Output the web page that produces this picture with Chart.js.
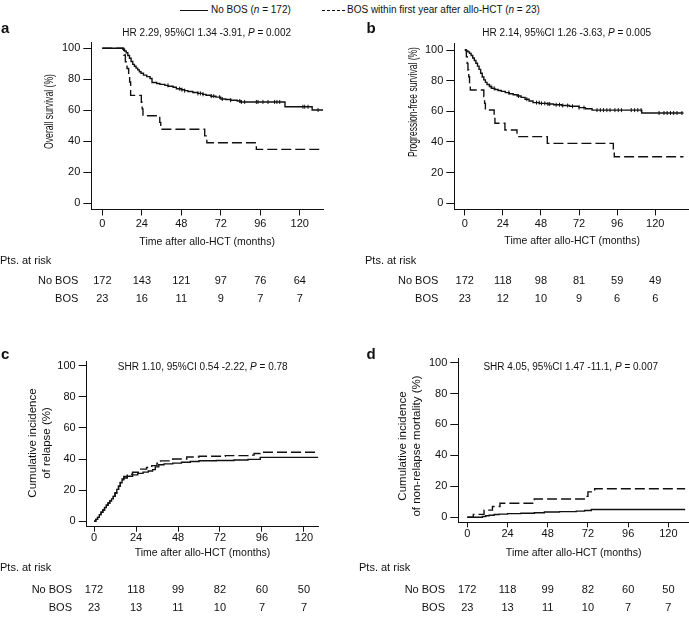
<!DOCTYPE html>
<html><head><meta charset="utf-8">
<script src="https://cdn.jsdelivr.net/npm/chart.js@4.4.1/dist/chart.umd.min.js"></script>
<style>
html,body{margin:0;padding:0;background:#fff;width:689px;height:620px;overflow:hidden;position:relative;font-family:"Liberation Sans",Arial,sans-serif;color:#111;}
canvas{position:absolute;}
#legend{position:absolute;top:0;left:0;width:689px;height:20px;font-size:10px;white-space:nowrap;}
.li{position:absolute;top:4px;}
.sw{position:absolute;top:10px;height:0;border-top:1px solid #111;}
</style></head><body>
<div id="legend">
 <span class="sw" style="left:180px;width:28px;"></span>
 <span class="li" style="left:211px;">No BOS (<i>n</i> = 172)</span>
 <span class="sw" style="left:322px;width:23px;border-top-style:dashed;"></span>
 <span class="li" style="left:347px;">BOS within first year after allo-HCT (<i>n</i> = 23)</span>
</div>
<canvas id="pa"></canvas><canvas id="pb"></canvas><canvas id="pc"></canvas><canvas id="pd"></canvas>
<script>
// ---------- data ----------
const xTicks = [0, 24, 48, 72, 96, 120];
const yTicks = [0, 20, 40, 60, 80, 100];
const groupLabels = ['No BOS', 'BOS'];

// (a) overall survival
const osNoBosT = [0, 12.5, 13.5, 14.5, 15.5, 16.5, 17.5, 18.5, 19.5, 20.5, 21.5, 22.5, 23.5, 25, 27, 29, 30.2, 33, 35, 38, 40, 43, 45, 48, 50, 52, 55, 58, 61, 63, 66, 69, 72, 75, 78, 82, 84, 111, 127.5, 134.3];
const osNoBosS = [100, 99.4, 98.3, 97.1, 95.4, 93.6, 91.5, 89.6, 88.4, 87.2, 86.1, 84.9, 83.9, 82.7, 81.7, 80.5, 77.9, 77.3, 76.7, 76.1, 75.5, 74.9, 73.9, 73.3, 72.7, 72.1, 71.5, 70.9, 70.3, 69.7, 69.1, 68.5, 67.3, 67.0, 66.5, 66.0, 65.4, 62.3, 60.2, 60.2];
const osNoBosCens = [39.9, 47.0, 48.4, 50.0, 58.1, 59.6, 61.2, 66.2, 67.7, 71.3, 72.9, 78.0, 83.5, 84.5, 86.5, 93.6, 94.6, 97.6, 100.7, 104.7, 106.1, 107.8, 121.9, 123, 125, 131.1];
const osBosT = [0, 13, 14, 15, 16, 16.6, 17.2, 23.7, 24.2, 24.7, 34.9, 35.5, 62.2, 63.5, 93.6, 132];
const osBosS = [100, 95.7, 91.3, 87, 82.6, 78.3, 69.6, 65.2, 60.9, 56.5, 52.2, 47.8, 43.5, 39.1, 34.8, 34.8];

// (b) progression-free survival
const pfsNoBosT = [0, 1, 2, 3, 4, 5, 6, 7, 8, 9, 10, 11, 12, 13, 14, 15.5, 17, 19, 21, 23, 25.5, 28, 30.5, 33, 35.5, 38, 40.5, 43, 47, 52, 56, 61, 66, 72, 76, 80.2, 111.5, 137.8];
const pfsNoBosS = [100, 99.4, 98.8, 97.8, 96.4, 94.8, 93.2, 91.4, 89.5, 87.4, 84.8, 82.4, 80.5, 78.9, 77.5, 76.1, 75.0, 74.2, 73.6, 73.0, 72.2, 71.5, 70.8, 70.0, 69.1, 67.9, 66.7, 65.7, 65.2, 64.8, 64.3, 63.8, 63.3, 62.4, 61.7, 60.8, 58.9, 58.9];
const pfsNoBosCens = [16.5, 18.5, 27.8, 33.9, 39.1, 45.2, 46.9, 48.3, 50.4, 52.4, 53.5, 57.6, 59.7, 61.7, 64.8, 67.9, 72, 75.1, 83.3, 85.4, 87.4, 89.5, 91.5, 94.6, 96.7, 98.7, 104.9, 107, 109, 111.1, 122.4, 125.5, 127.5, 129.6, 131.6, 133.7, 136.8];
const pfsBosT = [0, 1, 1.5, 2, 2.5, 3, 3.5, 12, 12.5, 13, 18.5, 19, 25.3, 32.9, 52, 93.6, 94.2, 137.8];
const pfsBosS = [100, 95.7, 91.3, 87, 82.6, 78.3, 73.9, 69.6, 65.2, 60.9, 56.5, 52.2, 47.8, 43.5, 39.1, 34.8, 30.4, 30.4];

// (c) cumulative incidence of relapse
const relNoBosT = [0, 1, 2, 3, 4, 5, 6, 7, 8, 9, 10, 11, 12, 13, 14, 15, 16, 17, 19, 22, 25, 28, 31, 33.5, 35, 37, 40, 45, 50, 55, 60, 70, 80, 88, 95, 128.2];
const relNoBosC = [0, 1.2, 2.5, 4.2, 5.8, 7.2, 8.8, 10.3, 11.7, 13.1, 14.4, 16.0, 18.2, 20.5, 22.6, 24.8, 26.6, 27.8, 28.9, 29.8, 30.8, 31.6, 32.3, 33.2, 35.0, 36.3, 36.9, 37.4, 37.9, 38.4, 38.9, 39.1, 39.4, 39.8, 41.1, 41.1];
const relBosT = [0, 1, 2, 3, 4, 5, 6, 7, 8, 9, 10, 11, 12, 13, 14, 15, 16, 17, 19, 22, 26, 30, 33, 36, 38, 45, 53, 60, 75, 88, 91.5, 95, 128.2];
const relBosC = [0, 1.2, 2.5, 4.2, 5.8, 7.2, 8.8, 10.3, 11.7, 13.1, 14.4, 16.0, 18.2, 20.5, 22.6, 25.0, 27.2, 28.8, 30.2, 31.5, 33.5, 34.6, 35.8, 37.3, 38.8, 40.0, 41.3, 41.8, 42.2, 42.5, 43.6, 44.4, 44.4];

// (d) cumulative incidence of non-relapse mortality
const nrmNoBosT = [0, 9, 11, 13, 16, 19, 24, 32, 40, 46, 55, 65, 70, 74, 130];
const nrmNoBosC = [0, 0.5, 0.9, 1.3, 1.7, 2.0, 2.3, 2.6, 2.9, 3.4, 3.6, 3.9, 4.3, 5.0, 5.0];
const nrmBosT = [0, 3.6, 10, 15, 19.5, 40, 69.8, 72, 76, 130];
const nrmBosC = [0, 1.8, 4.6, 6.9, 9.0, 11.8, 13.5, 16.4, 18.4, 18.4];

// numbers at risk
const riskOsNoBos = [172, 143, 121, 97, 76, 64];
const riskOsBos = [23, 16, 11, 9, 7, 7];
const riskPfsNoBos = [172, 118, 98, 81, 59, 49];
const riskPfsBos = [23, 12, 10, 9, 6, 6];
const riskRelNoBos = [172, 118, 99, 82, 60, 50];
const riskRelBos = [23, 13, 11, 10, 7, 7];
const riskNrmNoBos = [172, 118, 99, 82, 60, 50];
const riskNrmBos = [23, 13, 11, 10, 7, 7];

// ---------- helpers ----------
const FONT = '"Liberation Sans", Arial, sans-serif';
const INK = '#111';
function pts(T, V) { return T.map((t, i) => ({x: t, y: V[i]})); }
function valueAt(T, V, t) { let v = V[0]; for (let i = 0; i < T.length; i++) if (T[i] <= t) v = V[i]; return v; }

function richText(ctx, parts, cx, y, size) {
  let total = 0;
  const widths = parts.map(p => { ctx.font = (p[1] ? 'italic ' : '') + size + 'px ' + FONT; const w = ctx.measureText(p[0]).width; total += w; return w; });
  let x = cx - total / 2;
  ctx.textAlign = 'left'; ctx.textBaseline = 'middle';
  parts.forEach((p, i) => { ctx.font = (p[1] ? 'italic ' : '') + size + 'px ' + FONT; ctx.fillText(p[0], x, y); x += widths[i]; });
}

const panels = [
  {id: 'pa', left: 0, top: 20, w: 345, h: 290, area: {l: 91.3, r: 323, t: 42.1, b: 209.5},
   xMin: -6.7, xMax: 134.1, yMin: -4, yMax: 104, xTL: 6, xTP: 2, xH: 40, xTitleY: 241.7,
   yTitle: ['Overall survival (%)'], yTitleX: [50], yTitleCY: 111.5, yTitleSize: 12, yCond: 0.72,
   s1: pts(osNoBosT, osNoBosS), s2: pts(osBosT, osBosS),
   cens: osNoBosCens.map(t => ({x: t, y: valueAt(osNoBosT, osNoBosS, t)})),
   letter: 'a', letterX: 1, letterY: 33, hrX: 206.7, hrY: 33.3,
   hr: [['HR 2.29, 95%CI 1.34 -3.91, ', false], ['P', true], [' = 0.002', false]],
   ptsX: 0, ptsY: 261, labR: 78.3, rowY: [281, 299], risk: [riskOsNoBos, riskOsBos]},
  {id: 'pb', left: 345, top: 20, w: 350, h: 290, area: {l: 454.3, r: 695, t: 43.9, b: 209.4},
   xMin: -6.6, xMax: 141.9, yMin: -4, yMax: 104, xTL: 6, xTP: 2, xH: 40, xTitleY: 240.7,
   yTitle: ['Progression-free survival (%)'], yTitleX: [413.3], yTitleCY: 102, yTitleSize: 12, yCond: 0.71,
   s1: pts(pfsNoBosT, pfsNoBosS), s2: pts(pfsBosT, pfsBosS),
   cens: pfsNoBosCens.map(t => ({x: t, y: valueAt(pfsNoBosT, pfsNoBosS, t)})),
   letter: 'b', letterX: 366.5, letterY: 33, hrX: 566.7, hrY: 33.3,
   hr: [['HR 2.14, 95%CI 1.26 -3.63, ', false], ['P', true], [' = 0.005', false]],
   ptsX: 365, ptsY: 261, labR: 438.3, rowY: [281, 299], risk: [riskPfsNoBos, riskPfsBos]},
  {id: 'pc', left: 0, top: 320, w: 345, h: 300, area: {l: 86.7, r: 318.3, t: 361.7, b: 526.7},
   xMin: -4.2, xMax: 128.2, yMin: -3.5, yMax: 102.6, xTL: 5, xTP: 0, xH: 35, xTitleY: 553,
   yTitle: ['Cumulative incidence', 'of relapse (%)'], yTitleX: [33.3, 46.7], yTitleCY: 443, yTitleSize: 11.5, yCond: 1,
   s1: pts(relNoBosT, relNoBosC), s2: pts(relBosT, relBosC), cens: [],
   letter: 'c', letterX: 1, letterY: 359.3, hrX: 202.7, hrY: 367.7,
   hr: [['SHR 1.10, 95%CI 0.54 -2.22, ', false], ['P', true], [' = 0.78', false]],
   ptsX: 0, ptsY: 568, labR: 72, rowY: [590, 608], risk: [riskRelNoBos, riskRelBos]},
  {id: 'pd', left: 345, top: 320, w: 344, h: 300, area: {l: 458.3, r: 689, t: 358.3, b: 522.3},
   xMin: -5.37, xMax: 132.3, yMin: -3.3, yMax: 102.8, xTL: 5, xTP: 0, xH: 35, xTitleY: 553,
   yTitle: ['Cumulative incidence', 'of non-relapse mortality (%)'], yTitleX: [403.3, 416.7], yTitleCY: 446, yTitleSize: 11.5, yCond: 1,
   s1: pts(nrmNoBosT, nrmNoBosC), s2: pts(nrmBosT, nrmBosC), cens: [],
   letter: 'd', letterX: 366.5, letterY: 359.3, hrX: 570.7, hrY: 367.3,
   hr: [['SHR 4.05, 95%CI 1.47 -11.1, ', false], ['P', true], [' = 0.007', false]],
   ptsX: 359, ptsY: 568, labR: 445, rowY: [590, 608], risk: [riskNrmNoBos, riskNrmBos]}
];

panels.forEach(p => {
  const cv = document.getElementById(p.id);
  cv.width = p.w; cv.height = p.h;
  cv.style.left = p.left + 'px'; cv.style.top = p.top + 'px';
  cv.style.width = p.w + 'px'; cv.style.height = p.h + 'px';
  const aL = p.area.l - p.left, aR = p.area.r - p.left, aT = p.area.t - p.top, aB = p.area.b - p.top;
  const xTitleFont = 10.5, xLH = xTitleFont * 1.2;
  const xTitlePadBottom = (aB + p.xH) - (p.xTitleY - p.top) - xLH / 2;

  const extras = {
    id: 'extras' + p.id,
    afterDraw(chart) {
      const ctx = chart.ctx; const xs = chart.scales.x;
      ctx.save();
      ctx.fillStyle = INK;
      // y-axis title (rotated; a/b are condensed as in the original figure)
      p.yTitle.forEach((line, i) => {
        ctx.save();
        ctx.translate(p.yTitleX[i] - p.left, p.yTitleCY - p.top);
        ctx.rotate(-Math.PI / 2);
        ctx.scale(p.yCond, 1);
        ctx.font = p.yTitleSize + 'px ' + FONT;
        ctx.textAlign = 'center'; ctx.textBaseline = 'middle';
        ctx.fillText(line, 0, 0);
        ctx.restore();
      });
      ctx.font = 'bold 15px ' + FONT; ctx.textAlign = 'left'; ctx.textBaseline = 'alphabetic';
      ctx.fillText(p.letter, p.letterX - p.left, p.letterY - p.top);
      richText(ctx, p.hr, p.hrX - p.left, p.hrY - p.top, 10);
      ctx.font = '11px ' + FONT; ctx.textBaseline = 'middle';
      ctx.textAlign = 'left';
      ctx.fillText('Pts. at risk', p.ptsX - p.left, p.ptsY - p.top);
      groupLabels.forEach((g, gi) => {
        ctx.textAlign = 'right';
        ctx.fillText(g, p.labR - p.left, p.rowY[gi] - p.top);
        ctx.textAlign = 'center';
        p.risk[gi].forEach((n, i) => ctx.fillText(String(n), xs.getPixelForValue(xTicks[i]), p.rowY[gi] - p.top));
      });
      ctx.restore();
    }
  };

  new Chart(cv, {
    type: 'line',
    data: {datasets: [
      {label: groupLabels[0], data: p.s1, stepped: 'before', borderColor: INK, borderWidth: 1.4, pointRadius: 0, fill: false},
      {label: groupLabels[1], data: p.s2, stepped: 'before', borderColor: INK, borderWidth: 1.4, borderDash: [10, 4], pointRadius: 0, fill: false},
      {label: 'censored', data: p.cens, showLine: false, pointStyle: 'line', rotation: 90, pointRadius: 2, borderColor: INK, borderWidth: 1}
    ]},
    options: {
      responsive: false, animation: false, devicePixelRatio: 1,
      layout: {padding: {left: 0, top: aT, right: p.w - aR, bottom: p.h - aB - p.xH}},
      plugins: {legend: {display: false}, tooltip: {enabled: false}},
      scales: {
        x: {type: 'linear', position: 'bottom', min: p.xMin, max: p.xMax,
            afterBuildTicks: s => { s.ticks = xTicks.map(v => ({value: v})); },
            afterFit: s => { s.height = p.xH; },
            ticks: {font: {family: FONT, size: 11}, color: INK, padding: p.xTP, maxRotation: 0, autoSkip: false},
            grid: {drawOnChartArea: false, drawTicks: true, tickLength: p.xTL, color: INK, lineWidth: 1},
            border: {display: true, color: INK, width: 1},
            title: {display: true, text: 'Time after allo-HCT (months)', color: INK,
                    font: {family: FONT, size: xTitleFont}, padding: {top: 0, bottom: xTitlePadBottom}}},
        y: {type: 'linear', position: 'left', min: p.yMin, max: p.yMax,
            afterBuildTicks: s => { s.ticks = yTicks.map(v => ({value: v})); },
            afterFit: s => { s.width = aL; },
            ticks: {font: {family: FONT, size: 11}, color: INK, padding: 3},
            grid: {drawOnChartArea: false, drawTicks: true, tickLength: 8, color: INK, lineWidth: 1},
            border: {display: true, color: INK, width: 1},
            title: {display: false}}
      }
    },
    plugins: [extras]
  });
});
</script>
</body></html>
